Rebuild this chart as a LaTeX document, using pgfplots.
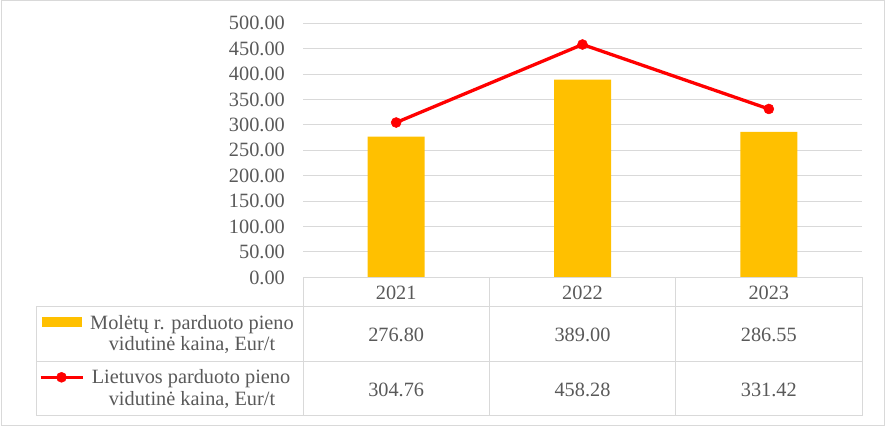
\documentclass[border=0pt]{standalone}
\usepackage{pgfplots}
\pgfplotsset{compat=1.18}
\usepackage{fontspec}
\setmainfont{Liberation Serif}

\definecolor{barcol}{HTML}{FFC000}
\definecolor{linecol}{HTML}{FF0000}
\definecolor{gridcol}{HTML}{D9D9D9}
\definecolor{txt}{HTML}{595959}
\newcommand{\cf}{\fontsize{20.3}{21}\selectfont}

\pgfplotsset{
  chartbase/.style={
    at={(303pt,150.6pt)}, anchor=south west, scale only axis,
    width=559pt, height=254.1pt,
    xmin=0, xmax=3, ymin=0, ymax=500,
  },
  keylegend/.style={
    legend style={draw=none, fill=none, inner sep=0pt, outer sep=0pt,
      column sep=0pt, nodes={inner sep=0pt, outer sep=0pt},
      at={#1}, anchor=center},
  },
  barkey/.style={
    legend image code/.code={\fill[barcol] (-20pt,-4.7pt) rectangle (20pt,4.7pt);}},
  linekey/.style={
    legend image code/.code={\draw[##1, mark repeat=2, mark phase=2]
      plot coordinates {(-21pt,0pt) (0pt,0pt) (21pt,0pt)};}},
}

\begin{document}
\begin{tikzpicture}[x=1pt,y=1pt]
\path[use as bounding box] (0pt,0pt) rectangle (886pt,428pt);
\draw[gridcol, line width=1pt] (1.5pt,2.5pt) rectangle (884pt,427pt);

% bars, grid, tick labels
\begin{axis}[chartbase,
  axis line style={draw=none},
  major tick length=0pt,
  ytick={0,50,...,500},
  ymajorgrids, grid style={gridcol, line width=1pt},
  xtick={0.5,1.5,2.5}, xticklabels={2021,2022,2023},
  ticklabel style={font=\cf, text=txt},
  /pgf/number format/fixed, /pgf/number format/fixed zerofill,
  /pgf/number format/precision=2, /pgf/number format/assume math mode=true,
  yticklabel style={anchor=east, inner sep=0pt, xshift=-18pt},
  xticklabel style={anchor=center, inner sep=0pt, yshift=-15.3pt},
  keylegend={(-0.4299,-0.1755)},
]
\addplot[ybar, bar width=57pt, fill=barcol, draw=none, barkey]
  coordinates {(0.5,276.80) (1.5,389.00) (2.5,286.55)};
\addlegendentry{\mbox{}}
\end{axis}

% line series
\begin{axis}[chartbase, hide axis,
  keylegend={(-0.4311,-0.3932)},
]
\addplot[linecol, line width=3.3pt, mark=*, mark size=5pt,
  mark options={solid, fill=linecol, draw=linecol, line width=0.5pt}, linekey]
  coordinates {(0.5,304.76) (1.5,458.28) (2.5,331.42)};
\addlegendentry{\mbox{}}
\end{axis}

% data table
\draw[gridcol, line width=1pt]
  (303pt,150.6pt) -- (862pt,150.6pt)
  (36pt,121pt) -- (862pt,121pt)
  (36pt,66pt) -- (862pt,66pt)
  (36pt,12pt) -- (862pt,12pt)
  (36pt,121pt) -- (36pt,12pt)
  (303pt,150.6pt) -- (303pt,12pt)
  (489.3pt,150.6pt) -- (489.3pt,12pt)
  (675.7pt,150.6pt) -- (675.7pt,12pt)
  (862pt,150.6pt) -- (862pt,12pt);

\begin{scope}[every node/.style={font=\cf, text=txt, inner sep=0pt}]
\node at (396.2pt,93.5pt) {276.80};
\node at (582.5pt,93.5pt) {389.00};
\node at (768.8pt,93.5pt) {286.55};
\node at (396.2pt,38.3pt) {304.76};
\node at (582.5pt,38.3pt) {458.28};
\node at (768.8pt,38.3pt) {331.42};
\node[anchor=base] at (192pt,98pt) {Molėtų r. parduoto pieno};
\node[anchor=base] at (192pt,77pt) {vidutinė kaina, Eur/t};
\node[anchor=base] at (191pt,44pt) {Lietuvos parduoto pieno};
\node[anchor=base] at (192pt,22pt) {vidutinė kaina, Eur/t};
\end{scope}
\end{tikzpicture}
\end{document}
